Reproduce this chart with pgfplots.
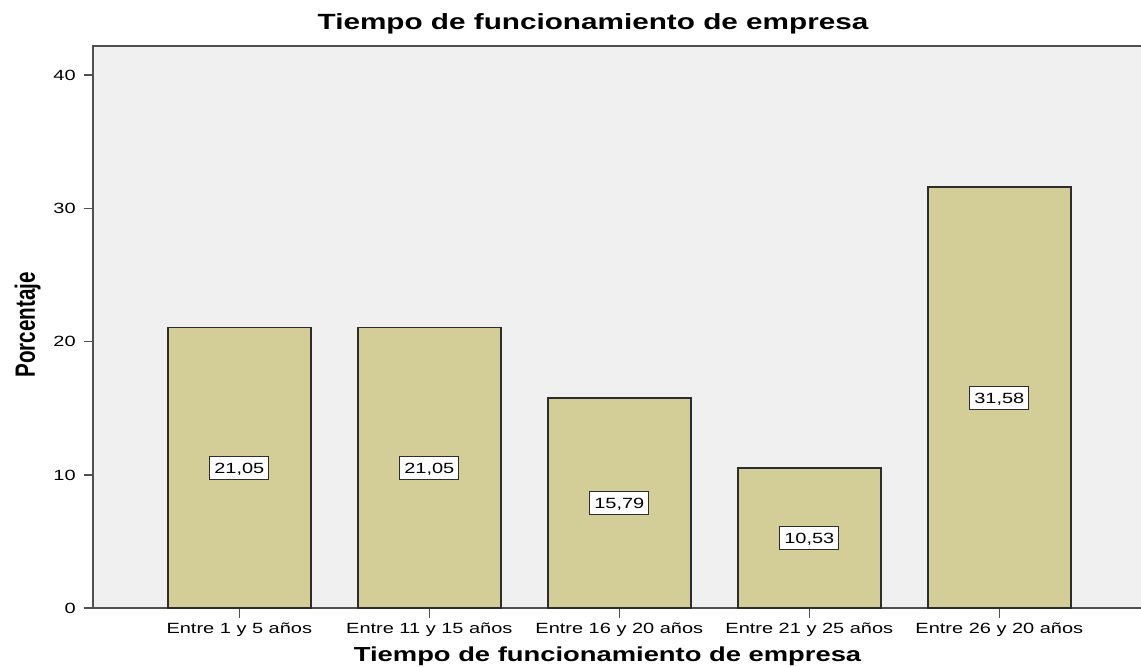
\documentclass[border=0pt]{standalone}
\usepackage{pgfplots}
\usepackage{pgfplotstable}
\pgfplotsset{compat=1.18}
\usepackage{fontspec}
\setmainfont{Liberation Sans}[FakeStretch=1.35]
\newfontfamily\plainsans{Liberation Sans}
\definecolor{barfill}{RGB}{211,206,151}
\definecolor{bgc}{RGB}{240,240,240}
\definecolor{axc}{RGB}{80,80,80}
\definecolor{edgec}{RGB}{45,45,45}
\pgfplotstableread{
x y
0 21.05
1 21.05
2 15.79
3 10.53
4 31.58
}\datatable
\begin{document}
\begin{tikzpicture}
\path[use as bounding box] (-69.75pt,-44pt) rectangle (786pt,456.2pt);
\begin{axis}[
  at={(0pt,0pt)}, anchor=south west,
  scale only axis, width=801pt, height=421.7pt,
  xmin=-0.770, xmax=4.851, ymin=0, ymax=42.18,
  axis background/.style={fill=bgc},
  axis line style={axc, line width=1.2pt},
  tick style={axc, line width=1.2pt},
  tick align=outside, tick pos=left,
  major tick length=7pt,
  xtick={0,1,2,3,4},
  xticklabels={Entre 1 y 5 años, Entre 11 y 15 años, Entre 16 y 20 años, Entre 21 y 25 años, Entre 26 y 20 años},
  ytick={0,10,20,30,40},
  ticklabel style={font=\fontsize{11.1}{13}\selectfont, text=black},
  /pgf/number format/assume math mode=true,
  xticklabel style={anchor=base, inner sep=0pt, yshift=-12.2pt},
  yticklabel style={anchor=east, inner sep=0pt, xshift=-5.8pt},
]
\addplot[ybar, bar width=107.25pt, fill=barfill, draw=edgec, line width=1.2pt] table[x=x, y=y] {\datatable};
\addplot[draw=none, mark=none, point meta=explicit,
  nodes near coords={\pgfmathprintnumber[fixed,fixed zerofill,precision=2,use comma,assume math mode=true]{\pgfplotspointmeta}},
  every node near coord/.append style={anchor=center, fill=white, draw=edgec, line width=0.9pt, inner xsep=3.4pt, inner ysep=4.7pt, text height=8pt, text depth=0pt, font=\fontsize{11.1}{13}\selectfont, text=black}]
  table[x=x, y expr=\thisrow{y}/2, meta=y] {\datatable};
\end{axis}
\node[anchor=base, font=\bfseries\fontsize{16.5}{19}\selectfont] at (375pt,434.25pt) {Tiempo de funcionamiento de empresa};
\node[anchor=base, font=\bfseries\fontsize{15.2}{18}\selectfont] at (385.9pt,-40.05pt) {Tiempo de funcionamiento de empresa};
\begin{scope}[shift={(-43.5pt,212.5pt)}]
\node[anchor=base, transform shape, xscale=1.35, rotate=90, font=\plainsans\bfseries\fontsize{15.5}{18}\selectfont] at (0,0) {Porcentaje};
\end{scope}
\end{tikzpicture}
\end{document}
